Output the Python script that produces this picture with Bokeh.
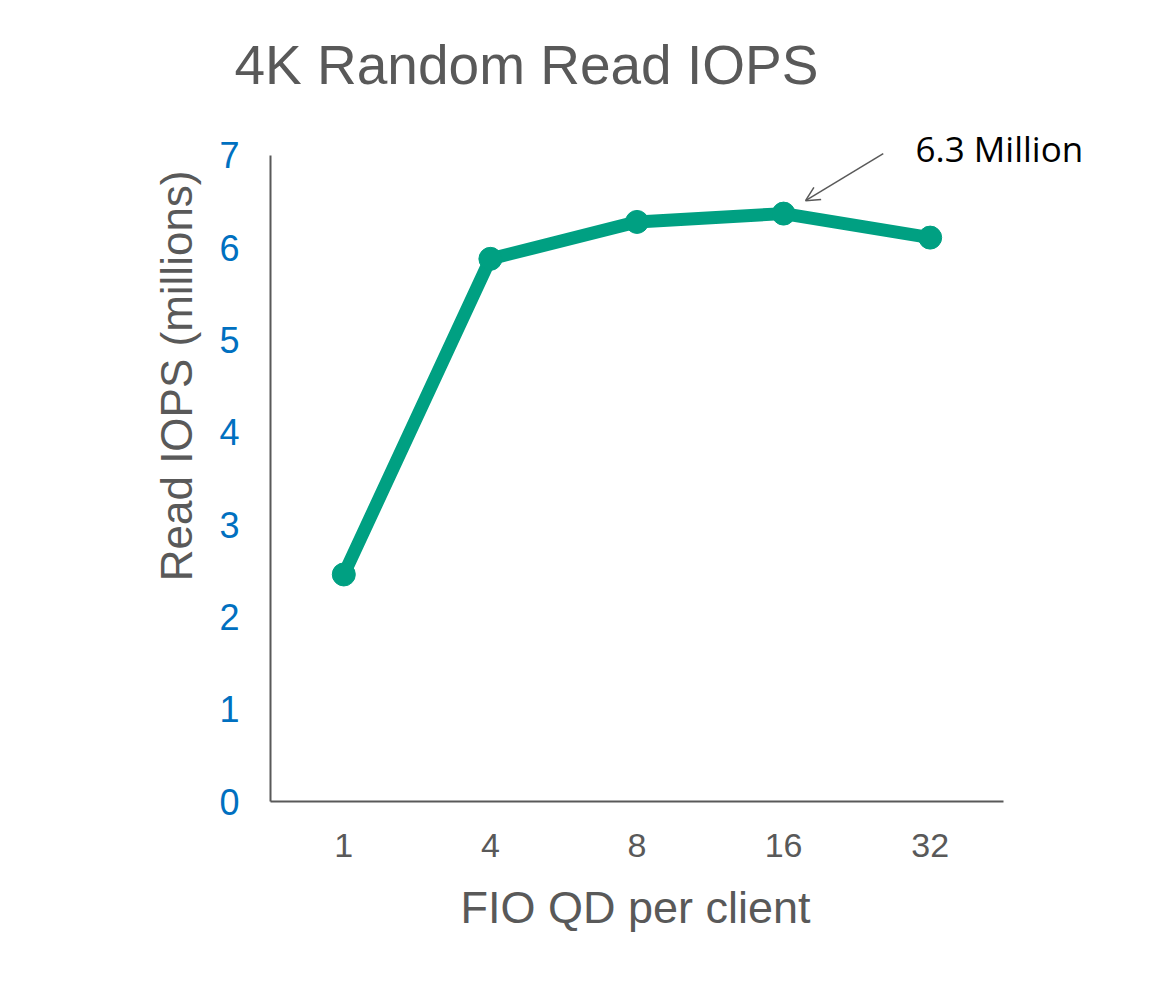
import numpy as np
from bokeh.plotting import figure
from bokeh.models import Label, Arrow, OpenHead, FixedTicker, Range1d, Title
from bokeh.embed import file_html
from bokeh.resources import INLINE

qd_labels = ["1", "4", "8", "16", "32"]
iops_millions = [2.46, 5.88, 6.28, 6.37, 6.11]
y_ticks = [0, 1, 2, 3, 4, 5, 6, 7]

title_text = "4K Random Read IOPS"
x_title = "FIO QD per client"
y_title = "Read IOPS (millions)"
note_text = "6.3 Million"

GRAY = "#595959"
TEAL = "#00A082"
BLUE = "#0070C0"
FONT = "Liberation Sans"

n = len(qd_labels)
xs = list(np.arange(n) + 0.5)

# frame is extended to the right and upward so the annotation is not clipped;
# the axis lines are limited to the data extent with bounds
p = figure(width=1158, height=974, output_backend="svg", toolbar_location=None,
           x_range=Range1d(0, 5.662), y_range=Range1d(0, 7.379),
           min_border_left=270, min_border_right=58, min_border_top=120, min_border_bottom=173)
p.title.visible = False
p.outline_line_color = None
p.xgrid.visible = False
p.ygrid.visible = False
p.background_fill_color = "white"
p.border_fill_color = "white"

p.line(xs, iops_millions, line_color=TEAL, line_width=13)
p.scatter(xs, iops_millions, size=23, fill_color=TEAL, line_color=TEAL)

# axes
p.xaxis.ticker = FixedTicker(ticks=xs)
p.xaxis.major_label_overrides = {float(x): l for x, l in zip(xs, qd_labels)}
p.xaxis.bounds = (0, n)
p.yaxis.ticker = FixedTicker(ticks=y_ticks)
p.yaxis.bounds = (0, 7)
for ax in (p.xaxis[0], p.yaxis[0]):
    ax.axis_line_color = GRAY
    ax.axis_line_width = 2
    ax.major_tick_line_color = None
    ax.minor_tick_line_color = None
    ax.major_tick_out = 0
    ax.major_tick_in = 0
    ax.major_label_text_font = FONT
p.xaxis.major_label_text_font_size = "34px"
p.yaxis.major_label_text_font_size = "36px"
p.xaxis.major_label_text_color = GRAY
p.yaxis.major_label_text_color = BLUE
p.xaxis.major_label_standoff = 32
p.yaxis.major_label_standoff = 31

# chart title
p.add_layout(Title(text=title_text, align="left", offset=-36, standoff=50,
                   text_font=FONT, text_font_size="55px", text_font_style="normal",
                   text_color=GRAY), "above")
# y axis title
p.add_layout(Title(text=y_title, align="right", offset=50, standoff=32,
                   text_font=FONT, text_font_size="44px", text_font_style="normal",
                   text_color=GRAY), "left")
# x axis title
p.add_layout(Title(text=x_title, align="left", offset=190, standoff=44,
                   vertical_align="top",
                   text_font=FONT, text_font_size="45px", text_font_style="normal",
                   text_color=GRAY), "below")

# annotation
p.add_layout(Arrow(end=OpenHead(size=14, line_color=GRAY, line_width=1.5),
                   x_start=4.18, y_start=7.02, x_end=3.65, y_end=6.51,
                   line_color=GRAY, line_width=1.5))
p.add_layout(Label(x=4.40, y=7.08, text=note_text, text_align="left",
                   text_baseline="middle", text_font="Open Sans",
                   text_font_size="35px", text_color="black"))

open("out.html", "w").write(file_html(p, INLINE))
